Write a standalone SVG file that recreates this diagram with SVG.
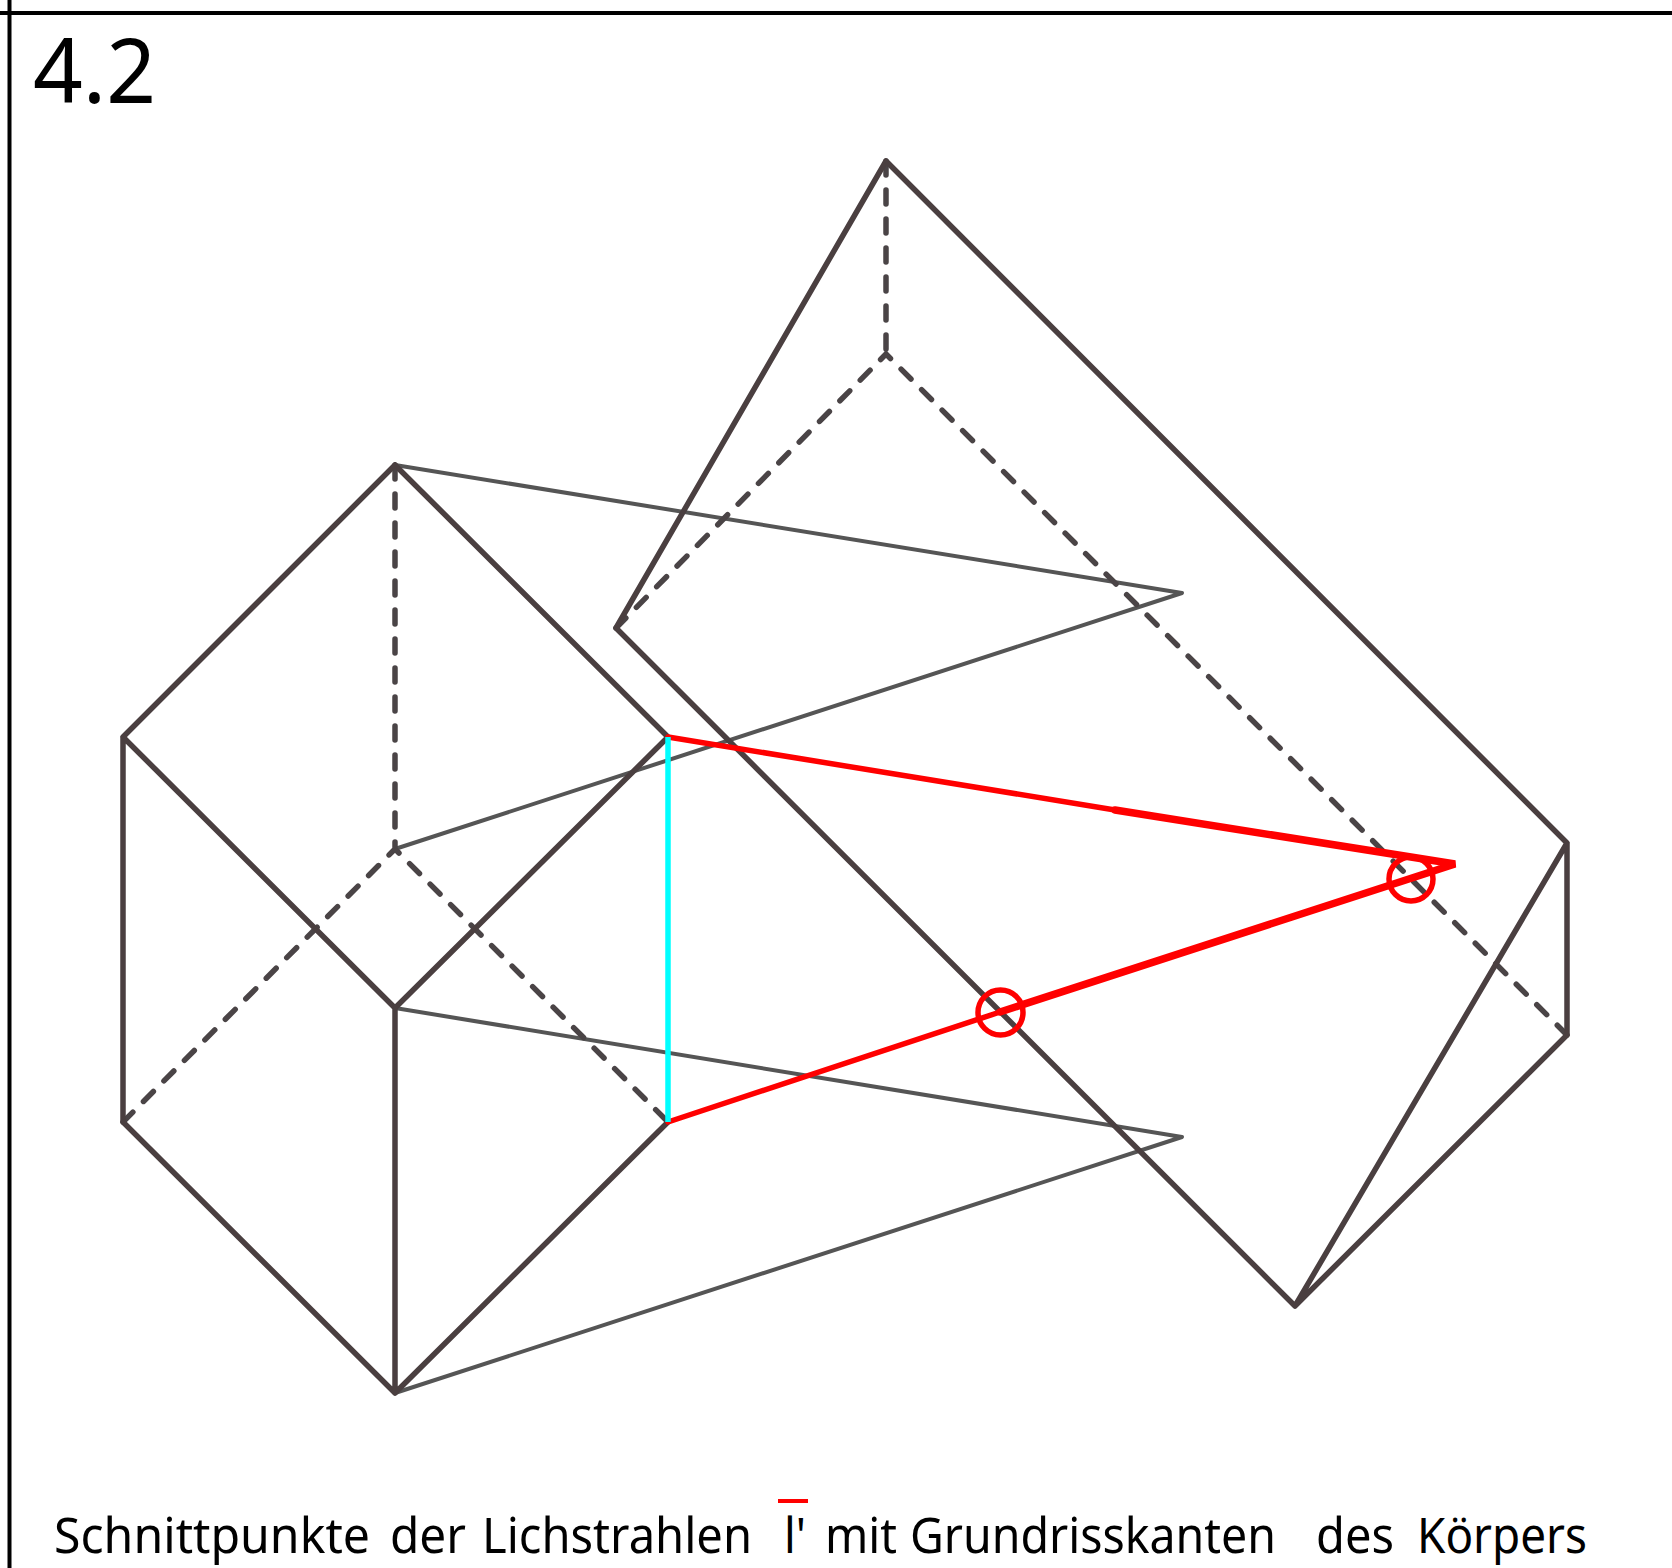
<svg xmlns="http://www.w3.org/2000/svg" width="1672" height="1568" viewBox="0 0 1672 1568">
<style>
.frame{stroke:#000;stroke-width:4;fill:none}
.edge{stroke:#4a3f40;stroke-width:5.500;fill:none;stroke-linecap:round;stroke-linejoin:round}
.dash{stroke:#4a4446;stroke-width:5.500;fill:none;stroke-dasharray:14 15;stroke-linecap:round}
.shadow{stroke:#555;stroke-width:4;fill:none;stroke-linecap:round;stroke-linejoin:round}
.ray{stroke:#f00;fill:none;stroke-linecap:round}
.mark{stroke:#f00;stroke-width:5.500;fill:none}
text{font-family:"Noto Sans","Open Sans","Liberation Sans",sans-serif;fill:#000}
</style>
<rect width="1672" height="1568" fill="#fff"/>
<g id="frame"><path class="frame" d="M0 13H1672M9.500 0V1568"/></g>
<g id="connectors">
<g id="shadow-lines"><path class="shadow" d="M395 465L1182 593L395 849M395 1008L1182 1137L395 1393"/></g>
<g id="left-hidden"><path class="dash" stroke="#4a3f40" d="M395 465V849M123 1122L395 849L668 1122"/></g>
<g id="right-hidden"><path class="dash" d="M886 161V354M616 628L886 354L1567 1035"/></g>
<g id="left-body"><path class="edge" d="M395 465L123 737V1122L395 1393L668 1122M668 737L395 465M123 737L395 1008L668 737M395 1008V1393"/></g>
<g id="right-body"><path class="edge" d="M616 628L886 161L1567 843V1035L1295 1306L616 628M1567 843L1295 1306"/></g>
<g id="rays"><path class="ray" stroke-width="5.500" d="M668 737L1115 810M668 1122L1000 1012"/><path class="ray" stroke-width="7.500" d="M1115 810L1455 864L1000 1012"/></g>
<g id="light-edge"><path stroke="#0ff" stroke-width="5.500" fill="none" d="M668 737V1122"/></g>
</g>
<g id="intersection-1"><circle class="mark" cx="1000.500" cy="1012.500" r="22.500"/></g>
<g id="intersection-2"><circle class="mark" cx="1411" cy="879" r="22"/></g>
<g id="title"><text x="33" y="103" font-size="90" textLength="123" lengthAdjust="spacingAndGlyphs">4.2</text></g>
<g id="caption">
<path stroke="#f00" stroke-width="4" d="M778 1501H808"/>
<text y="1553" font-size="50"><tspan x="54" textLength="316" lengthAdjust="spacingAndGlyphs">Schnittpunkte</tspan><tspan x="390" textLength="76" lengthAdjust="spacingAndGlyphs">der</tspan><tspan x="482" textLength="270" lengthAdjust="spacingAndGlyphs">Lichstrahlen</tspan><tspan x="784" textLength="22" lengthAdjust="spacingAndGlyphs">l'</tspan><tspan x="825" textLength="72" lengthAdjust="spacingAndGlyphs">mit</tspan><tspan x="910" textLength="366" lengthAdjust="spacingAndGlyphs">Grundrisskanten</tspan><tspan x="1316" textLength="78" lengthAdjust="spacingAndGlyphs">des</tspan><tspan x="1417" textLength="170" lengthAdjust="spacingAndGlyphs">Körpers</tspan></text>
</g>
</svg>
